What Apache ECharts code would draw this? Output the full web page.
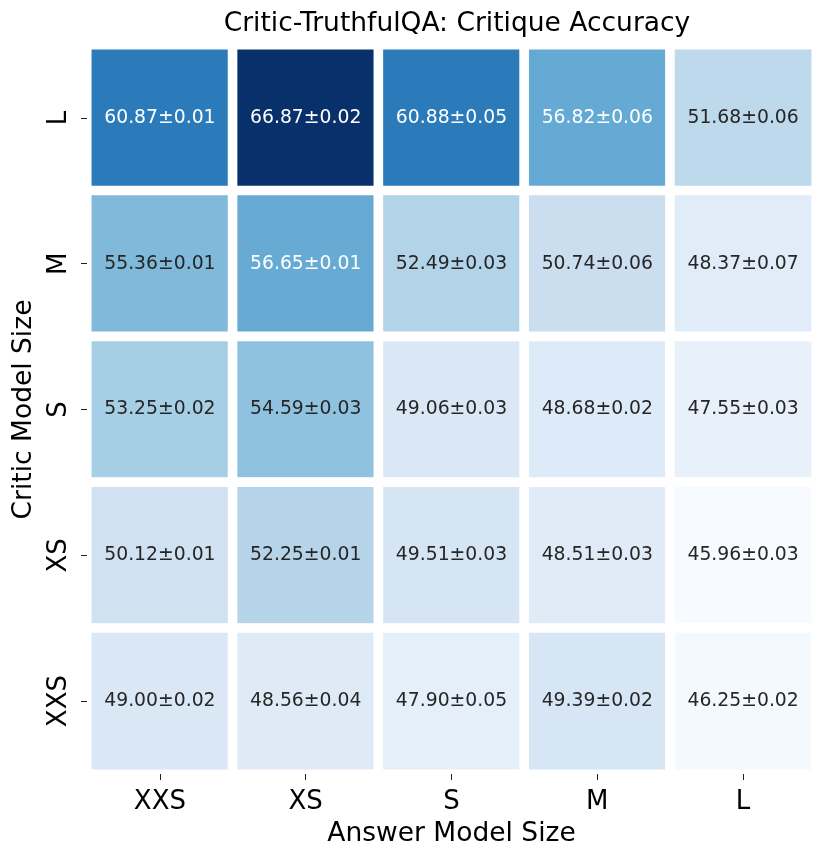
<!DOCTYPE html>
<html>
<head>
<meta charset="utf-8">
<script src="https://cdn.jsdelivr.net/npm/echarts@6/dist/echarts.min.js"></script>
<style>
  html, body { margin: 0; padding: 0; background: #fff; }
  #chart { width: 830px; height: 862px; }
</style>
</head>
<body>
<div id="chart"></div>
<script>
// answer model sizes (columns) and critic model sizes (rows, top to bottom)
const answerSizes = ['XXS', 'XS', 'S', 'M', 'L'];
const criticSizes = ['L', 'M', 'S', 'XS', 'XXS'];

// critique accuracy, one row per critic size
const meanL   = [60.87, 66.87, 60.88, 56.82, 51.68];
const meanM   = [55.36, 56.65, 52.49, 50.74, 48.37];
const meanS   = [53.25, 54.59, 49.06, 48.68, 47.55];
const meanXS  = [50.12, 52.25, 49.51, 48.51, 45.96];
const meanXXS = [49.00, 48.56, 47.90, 49.39, 46.25];

const stdL   = [0.01, 0.02, 0.05, 0.06, 0.06];
const stdM   = [0.01, 0.01, 0.03, 0.06, 0.07];
const stdS   = [0.02, 0.03, 0.03, 0.02, 0.03];
const stdXS  = [0.01, 0.01, 0.03, 0.03, 0.03];
const stdXXS = [0.02, 0.04, 0.05, 0.02, 0.02];

const means = [meanL, meanM, meanS, meanXS, meanXXS];
const stds = [stdL, stdM, stdS, stdXS, stdXXS];

// matplotlib "Blues"
const blues = ['#f7fbff', '#deebf7', '#c6dbef', '#9ecae1', '#6baed6',
               '#4292c6', '#2171b5', '#08519c', '#08306b'];

const all = means.flat();
const vmin = Math.min(...all);
const vmax = Math.max(...all);

const data = [];
means.forEach((row, r) => {
  row.forEach((v, c) => {
    data.push({
      value: [c, r, v, stds[r][c]],
      label: { color: v > 56 ? '#ffffff' : '#262626' }
    });
  });
});

const font = 'DejaVu Sans';
const chart = echarts.init(document.getElementById('chart'));
chart.setOption({
  animation: false,
  title: {
    text: 'Critic-TruthfulQA: Critique Accuracy',
    left: 452, textAlign: 'center', top: 6,
    textStyle: { fontFamily: font, fontSize: 26.5, fontWeight: 'normal', color: '#000' }
  },
  grid: { left: 87, top: 45, width: 729, height: 729 },
  xAxis: {
    type: 'category',
    z: 5,
    data: answerSizes,
    name: 'Answer Model Size',
    nameLocation: 'middle',
    nameGap: 47,
    nameTextStyle: { fontFamily: font, fontSize: 26.5, color: '#000' },
    axisLine: { show: false },
    axisTick: { show: true, alignWithLabel: true, length: 6, lineStyle: { color: '#222', width: 1 } },
    axisLabel: { fontFamily: font, fontSize: 26, color: '#000', margin: 15 },
    splitLine: { show: false }
  },
  yAxis: {
    type: 'category',
    z: 5,
    data: criticSizes,
    inverse: true,
    name: 'Critic Model Size',
    nameLocation: 'middle',
    nameGap: 45,
    nameRotate: 90,
    nameTextStyle: { fontFamily: font, fontSize: 26.5, color: '#000' },
    axisLine: { show: false },
    axisTick: { show: true, alignWithLabel: true, length: 6, lineStyle: { color: '#222', width: 1 } },
    axisLabel: { fontFamily: font, fontSize: 26, color: '#000', rotate: 90, margin: 15 },
    splitLine: { show: false }
  },
  visualMap: {
    show: false,
    min: vmin,
    max: vmax,
    dimension: 2,
    inRange: { color: blues }
  },
  series: [{
    type: 'heatmap',
    data: data,
    itemStyle: { borderColor: '#ffffff', borderWidth: 9.6 },
    label: {
      show: true,
      fontFamily: font,
      fontSize: 18.8,
      formatter: p => p.value[2].toFixed(2) + '±' + p.value[3].toFixed(2)
    },
    emphasis: { disabled: true }
  }]
});
</script>
</body>
</html>
